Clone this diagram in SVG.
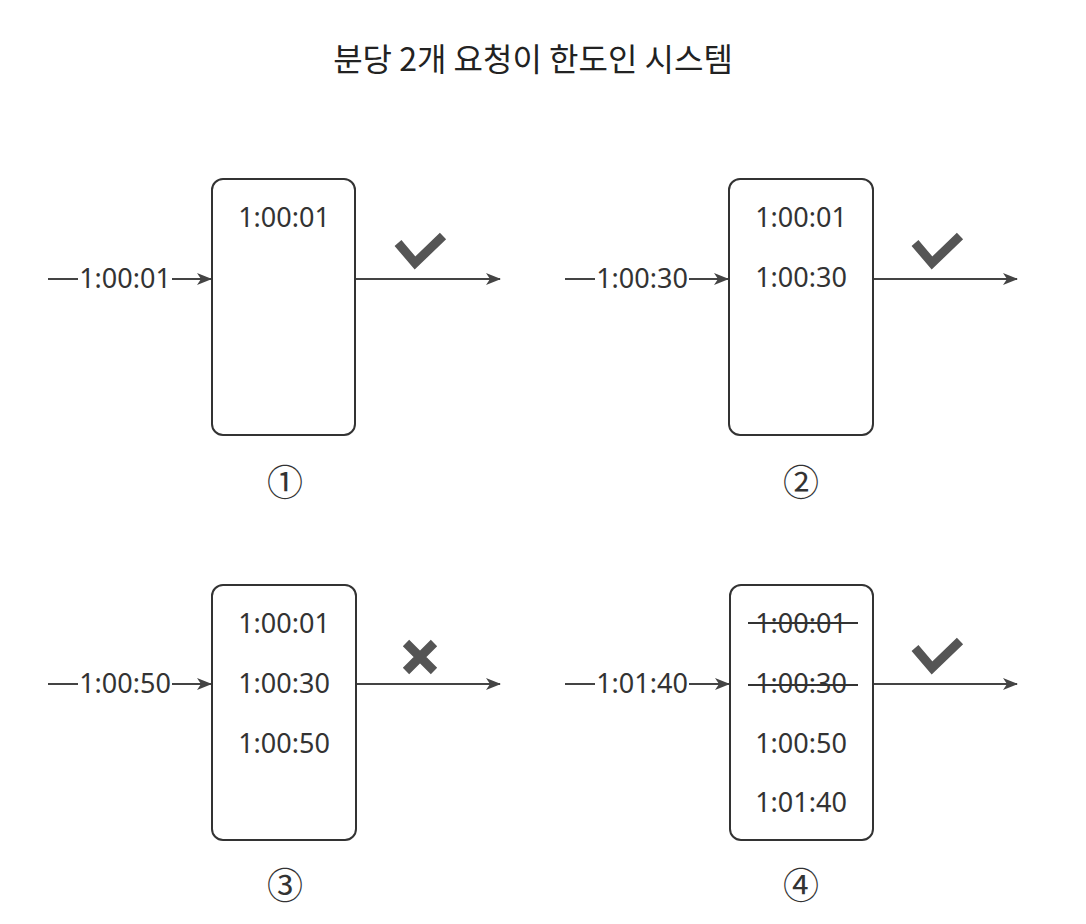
<svg xmlns="http://www.w3.org/2000/svg" width="1086" height="924" viewBox="0 0 1086 924">
<style>
.t{font-family:"Noto Sans","Noto Sans CJK KR",sans-serif;font-size:27px;fill:#333;text-anchor:middle}
.title{font-family:"Noto Sans CJK KR","Noto Sans",sans-serif;font-size:32px;fill:#222;text-anchor:middle;font-weight:400}
.num{font-family:"Noto Sans CJK KR",sans-serif;font-size:36px;fill:#333;text-anchor:middle}
.box{fill:#fff;stroke:#333;stroke-width:2}
.ln{stroke:#444;stroke-width:2;fill:none}
.chk{stroke:#555;stroke-width:9;fill:none;stroke-linecap:butt;stroke-linejoin:miter}
.strike{stroke:#333;stroke-width:2}
</style>
<defs>
<marker id="ah" markerWidth="15" markerHeight="12" refX="14" refY="6" orient="auto" markerUnits="userSpaceOnUse">
<path d="M0,0 L15,6 L0,12 L4,6 Z" fill="#444"/>
</marker>
</defs>
<rect width="1086" height="924" fill="#fff"/>
<text class="title" x="533" y="71">분당 2개 요청이 한도인 시스템</text>

<g id="connectors">
<line class="ln" x1="48" y1="279" x2="78" y2="279"/>
<line class="ln" x1="172" y1="279" x2="211" y2="279" marker-end="url(#ah)"/>
<line class="ln" x1="355" y1="279" x2="500" y2="279" marker-end="url(#ah)"/>
<line class="ln" x1="565" y1="279" x2="595" y2="279"/>
<line class="ln" x1="689" y1="279" x2="728" y2="279" marker-end="url(#ah)"/>
<line class="ln" x1="873" y1="279" x2="1017" y2="279" marker-end="url(#ah)"/>
<line class="ln" x1="48" y1="684" x2="78" y2="684"/>
<line class="ln" x1="172" y1="684" x2="211" y2="684" marker-end="url(#ah)"/>
<line class="ln" x1="356" y1="684" x2="500" y2="684" marker-end="url(#ah)"/>
<line class="ln" x1="565" y1="684" x2="595" y2="684"/>
<line class="ln" x1="689" y1="684" x2="729" y2="684" marker-end="url(#ah)"/>
<line class="ln" x1="873" y1="684" x2="1017" y2="684" marker-end="url(#ah)"/>
</g>

<g id="input-labels">
<text class="t" x="125" y="288">1:00:01</text>
<text class="t" x="642" y="288">1:00:30</text>
<text class="t" x="125" y="693">1:00:50</text>
<text class="t" x="642" y="693">1:01:40</text>
</g>

<g id="step1">
<rect class="box" x="212" y="179" width="143" height="256" rx="11"/>
<text class="t" x="284" y="227">1:00:01</text>
<polyline class="chk" points="398,243 415,263 443,236"/>
<text class="num" x="285" y="496">①</text>
</g>

<g id="step2">
<rect class="box" x="729" y="179" width="144" height="256" rx="11"/>
<text class="t" x="801" y="227">1:00:01</text>
<text class="t" x="801" y="287">1:00:30</text>
<polyline class="chk" points="915,243 932,263 960,236"/>
<text class="num" x="801" y="496">②</text>
</g>

<g id="step3">
<rect class="box" x="212" y="585" width="144" height="255" rx="11"/>
<text class="t" x="284" y="633">1:00:01</text>
<text class="t" x="284" y="693">1:00:30</text>
<text class="t" x="284" y="753">1:00:50</text>
<path class="chk" d="M406,643 L434,671 M434,643 L406,671"/>
<text class="num" x="285" y="899">③</text>
</g>

<g id="step4">
<rect class="box" x="730" y="585" width="143" height="255" rx="11"/>
<text class="t" x="801" y="633">1:00:01</text>
<line class="strike" x1="748" y1="623" x2="858" y2="623"/>
<text class="t" x="801" y="693">1:00:30</text>
<line class="strike" x1="748" y1="685" x2="858" y2="685"/>
<text class="t" x="801" y="753">1:00:50</text>
<text class="t" x="801" y="812">1:01:40</text>
<polyline class="chk" points="915,648 932,668 960,641"/>
<text class="num" x="801" y="899">④</text>
</g>
</svg>
